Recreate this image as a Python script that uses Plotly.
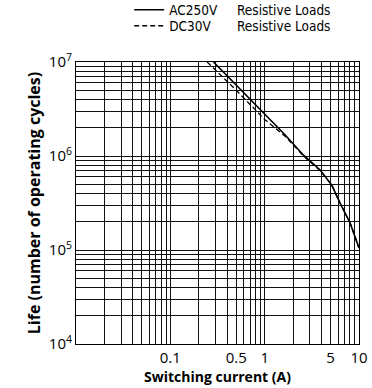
import plotly.graph_objects as go

# Data
ac_current = [0.287, 1.65, 2.58, 3.87, 5.15, 6.3, 8.05, 10.0]
ac_life = [1.0e7, 1.67e6, 1.02e6, 7.1e5, 4.9e5, 3.16e5, 1.94e5, 1.05e5]

dc_current = [0.246, 0.5, 1.0, 1.65, 2.58, 3.87, 5.15, 6.3, 8.05, 10.0]
dc_life = [1.0e7, 5.0e6, 2.45e6, 1.62e6, 1.0e6, 7.0e5, 4.9e5, 3.16e5, 1.94e5, 1.05e5]

x_tick_vals = [0.1, 0.5, 1, 5, 10]
x_tick_text = ["0.1", "0.5", "1", "5", "10"]
y_tick_vals = [1e4, 1e5, 1e6, 1e7]
y_tick_text = ["10<sup>4</sup>", "10<sup>5</sup>", "10<sup>6</sup>", "10<sup>7</sup>"]

grid_x = [m * 10 ** e for e in (-2, -1, 0) for m in range(1, 10)] + [10]
grid_y = [m * 10 ** e for e in (4, 5, 6) for m in range(1, 10)] + [1e7]

series_names = ["AC250V", "DC30V"]
load_label = "Resistive Loads"

narrow = "Liberation Sans Narrow, DejaVu Sans Condensed, Arial Narrow, sans-serif"
main_font = "Open Sans, Noto Sans, DejaVu Sans, sans-serif"

fig = go.Figure()
fig.add_trace(go.Scatter(x=ac_current, y=ac_life, mode="lines", name=series_names[0],
                         line=dict(color="black", width=1.6), legend="legend"))
fig.add_trace(go.Scatter(x=dc_current, y=dc_life, mode="lines", name=series_names[1],
                         line=dict(color="black", width=1.3, dash="5px,3px"), legend="legend2"))

grid_color = "#111"
fig.update_xaxes(type="log", range=[-2, 1], tickvals=x_tick_vals, ticktext=x_tick_text,
                 showgrid=True, gridcolor=grid_color, gridwidth=0.8,
                 minor=dict(tickvals=grid_x, showgrid=True, gridcolor=grid_color, gridwidth=0.8, ticks=""),
                 showline=True, linecolor="black", linewidth=1, mirror=True, ticks="",
                 zeroline=False,
                 tickfont=dict(family=main_font, size=15, color="black"),
                 title=dict(text="<b>Switching current (A)</b>", standoff=2,
                            font=dict(family=main_font, size=14, color="black")))
fig.update_yaxes(type="log", range=[4, 7], tickvals=y_tick_vals, ticktext=y_tick_text,
                 showgrid=True, gridcolor=grid_color, gridwidth=0.8,
                 minor=dict(tickvals=grid_y, showgrid=True, gridcolor=grid_color, gridwidth=0.8, ticks=""),
                 showline=True, linecolor="black", linewidth=1, mirror=True, ticks="",
                 zeroline=False,
                 tickfont=dict(family=main_font, size=15, color="black"),
                 title=dict(text="<b>Life (number of operating cycles)</b>", standoff=4,
                            font=dict(family=main_font, size=16, color="black")))

for yy in [1.1844, 1.1277]:
    fig.add_annotation(x=0.562, y=yy, xref="paper", yref="paper", text=load_label,
                       showarrow=False, xanchor="left", yanchor="middle",
                       font=dict(family=narrow, size=13.5, color="black"))

legend_common = dict(x=0.188, xanchor="left", yanchor="middle",
                     font=dict(family=narrow, size=13.5, color="black"),
                     bgcolor="rgba(0,0,0,0)", itemwidth=30)

fig.update_layout(
    width=372, height=388,
    margin=dict(l=76, r=13, t=62, b=44, autoexpand=False),
    paper_bgcolor="white", plot_bgcolor="white",
    showlegend=True,
    legend=dict(y=1.1844, **legend_common),
    legend2=dict(y=1.1277, **legend_common),
)

fig.write_html("out.html", config={"displayModeBar": False},
               post_script="document.body.style.margin='0';document.body.style.padding='0';")
